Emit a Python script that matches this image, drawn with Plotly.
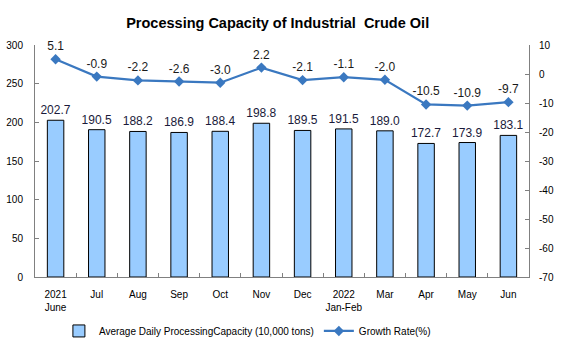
import plotly.graph_objects as go

categories = ["2021<br>June", "Jul", "Aug", "Sep", "Oct", "Nov", "Dec",
              "2022<br>Jan-Feb", "Mar", "Apr", "May", "Jun"]
capacity = [202.7, 190.5, 188.2, 186.9, 188.4, 198.8, 189.5, 191.5, 189.0, 172.7, 173.9, 183.1]
growth = [5.1, -0.9, -2.2, -2.6, -3.0, 2.2, -2.1, -1.1, -2.0, -10.5, -10.9, -9.7]
left_ticks = [0, 50, 100, 150, 200, 250, 300]
right_ticks = [10, 0, -10, -20, -30, -40, -50, -60, -70]

FONT = "Liberation Sans, Arial, sans-serif"

fig = go.Figure()
fig.add_trace(go.Bar(
    x=categories, y=capacity, name="Average Daily ProcessingCapacity (10,000 tons)",
    marker=dict(color="#99ccff", line=dict(color="#000000", width=1)),
    width=0.4,
    text=[f"{v:.1f}" for v in capacity], textposition="outside",
    constraintext="none",
    textfont=dict(size=12, color="#1a1a3a", family=FONT),
    cliponaxis=False,
))
fig.add_trace(go.Scatter(
    x=categories, y=growth, name="Growth Rate(%)", yaxis="y2",
    mode="lines+markers+text",
    line=dict(color="#3a78c0", width=2.2),
    marker=dict(symbol="diamond", size=8, color="#3a78c0"),
    text=[f"{v:.1f}" for v in growth], textposition="top center",
    textfont=dict(size=12, color="#1a1a1a", family=FONT),
    cliponaxis=False,
))

fig.update_layout(
    width=561, height=358,
    margin=dict(l=35, r=32, t=45, b=81, autoexpand=False),
    paper_bgcolor="white", plot_bgcolor="white",
    font=dict(family=FONT, size=10, color="#000000"),
    title=dict(text="<b>Processing Capacity of Industrial  Crude Oil</b>",
               x=0.495, xanchor="center", y=0.935, yanchor="middle",
               font=dict(size=14.5, family=FONT, color="#000000")),
    showlegend=True,
    legend=dict(orientation="h", x=0.43, xanchor="center", y=-0.17, yanchor="top",
                font=dict(size=10, family=FONT), itemwidth=30, tracegroupgap=0),
    bargap=0.6,
    xaxis=dict(type="category", range=[-0.5, 11.5], showline=True, linecolor="#808080",
               linewidth=1, ticks="inside", tickson="boundaries", ticklen=4,
               tickcolor="#808080", showgrid=False, tickangle=0,
               tickfont=dict(size=10), automargin=False, ticklabelstandoff=8),
    yaxis=dict(range=[0, 300], tickvals=left_ticks, showline=True, linecolor="#808080",
               ticks="inside", ticklen=4, tickcolor="#808080", showgrid=False,
               zeroline=False, tickfont=dict(size=10), automargin=False,
               ticklabelstandoff=9),
    yaxis2=dict(range=[-70, 10], tickvals=right_ticks,
                ticktext=[str(v) for v in right_ticks],
                overlaying="y", side="right",
                showline=True, linecolor="#808080", ticks="inside", ticklen=4,
                tickcolor="#808080", showgrid=False, zeroline=False,
                tickfont=dict(size=10), automargin=False, ticklabelstandoff=7),
)

fig.write_html("out.html", config={"displayModeBar": False},
               post_script="document.body.style.margin='0';")
